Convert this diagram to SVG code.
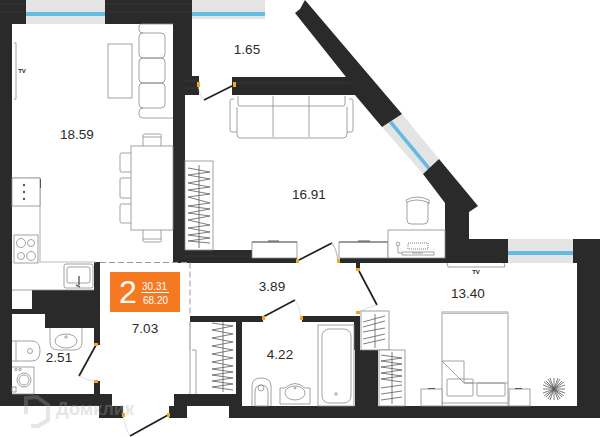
<svg xmlns="http://www.w3.org/2000/svg" width="600" height="437" viewBox="0 0 600 437">
<style>
.w{fill:#2a2a2a}
.g{fill:#e4e4e4}
.b{fill:#63bbe4}
.o{fill:#f5a623}
.f{fill:#fff;stroke:#8a8a8a;stroke-width:.8}
.l{fill:none;stroke:#8a8a8a;stroke-width:.8}
.lg{fill:none;stroke:#bdbdbd;stroke-width:1.2}
.d{fill:none;stroke:#1f1f1f;stroke-width:1.7}
.a{fill:none;stroke:#c9c9c9;stroke-width:.6}
.h{fill:none;stroke:#5c5c5c;stroke-width:.8}
.t{font-family:"Liberation Sans",Arial,sans-serif;font-size:13.5px;fill:#2a2a2a;text-anchor:middle}
.tv{font-family:"Liberation Sans",Arial,sans-serif;font-size:6px;font-weight:bold;fill:#2a2a2a;text-anchor:middle}
</style>
<rect width="600" height="437" fill="#fff"/>

<g id="windows">
<rect class="g" x="26" y="0" width="79" height="24"/><rect class="b" x="24" y="12" width="84" height="4"/>
<rect class="g" x="192" y="0" width="73" height="19"/><rect class="b" x="192" y="12" width="73" height="4"/>
<polygon class="g" points="402,114 439,159 423,174 382,127"/><polygon class="b" points="392,121 431,168 428,170 389,123"/>
<rect class="g" x="508" y="239" width="65" height="24"/><rect class="b" x="506" y="251" width="70" height="4"/>
</g>

<g id="walls">
<path class="w" d="M0 0H26V24H12V394H0Z"/>
<path class="w" d="M105 0H192V76H199V95H185V250H252V258H297V263H173V24H105Z"/>
<path class="w" d="M232 77H346L295 13L300 9L305 0L402 114L382 127L355 95H232Z"/>
<path class="w" d="M439 159L478 206L469 212V239H508V263H340V258H445V203L423 174Z"/>
<path class="w" d="M573 239H600V418H229V406H355V350H354V316H360V350H378V406H577V263H573Z"/>
<rect class="w" x="356" y="263" width="4" height="7"/>
<rect class="w" x="190" y="316" width="73" height="6"/>
<rect class="w" x="302" y="316" width="58" height="6"/>
<rect class="w" x="236" y="322" width="6" height="72"/>
<rect class="w" x="174" y="394" width="68" height="12"/>
<rect class="w" x="169" y="406" width="18" height="12"/>
<rect class="w" x="0" y="394" width="112" height="12"/>
<rect class="w" x="99" y="406" width="24" height="12"/>
<rect class="w" x="94" y="262" width="6" height="83"/>
<rect class="w" x="94" y="381" width="6" height="13"/>
<rect class="w" x="32" y="290" width="62" height="19"/>
<rect class="w" x="12" y="309" width="82" height="5"/>
<rect class="w" x="45" y="314" width="49" height="14"/>
<path d="M0 4H26M105 4H192M0 12H24M108 12H192M185 81H199M185 88H199M185 256H252M232 83H350" stroke="#444" stroke-width=".5" fill="none"/>
</g>

<g id="doors">
<path class="d" d="M234 85L204 100"/><path class="a" d="M198 84Q199 95 204 100"/>
<path class="d" d="M297 261L332 243"/><path class="lg" stroke-width=".7" d="M332 243Q337 250 338 261"/>
<path class="d" d="M359 271L377 305"/><path class="a" d="M377 305Q368 307 358 312"/>
<path class="d" d="M263 317L295 300"/><path class="a" d="M295 300Q300 307 301 317"/>
<path class="d" d="M96 345L79 376"/><path class="a" d="M79 376Q88 381 96 381"/>
<path class="d" d="M168 415L130 436"/><path class="a" d="M123 415Q125 428 130 436"/>
<rect class="o" x="197" y="82" width="3" height="5"/><rect class="o" x="233" y="82" width="3" height="5"/>
<rect class="o" x="296" y="259" width="3" height="4"/><rect class="o" x="337" y="259" width="3" height="4"/>
<rect class="o" x="356" y="268" width="4" height="3"/><rect class="o" x="356" y="311" width="4" height="3"/>
<rect class="o" x="262" y="316" width="3" height="4"/><rect class="o" x="300" y="316" width="3" height="4"/>
<rect class="o" x="94" y="343" width="4" height="3"/><rect class="o" x="94" y="380" width="4" height="3"/>
<rect class="o" x="122" y="413" width="3" height="4"/><rect class="o" x="167" y="413" width="3" height="4"/>
<path d="M100 262.500H190V316" fill="none" stroke="#9a9a9a" stroke-width="1" stroke-dasharray="6 3"/>
</g>

<g id="living">
<rect class="f" x="108" y="44" width="24" height="54"/>
<path class="l" d="M173 24H141Q139 24 139 28V30Q139 33 143 33H161Q165 33 165 37V54Q165 58 161 58H143Q139 58 139 62V79Q139 83 143 83H161Q165 83 165 87V104Q165 108 161 108H143Q139 108 139 112V114Q139 118 143 118H173"/>
<path class="l" d="M143 33Q139 33 139 37V54Q139 58 143 58H161Q165 58 165 62V79Q165 83 161 83H143Q139 83 139 87V104Q139 108 143 108"/>
<path class="l" d="M14 43H16V99H14"/>
<text class="tv" x="22" y="73">TV</text>
<rect class="f" x="131" y="146" width="42" height="84"/>
<path class="l" d="M131 153H121Q120 153 120 155V170Q120 172 121 172H131M131 178H121Q120 178 120 180V196Q120 198 121 198H131M131 204H121Q120 204 120 206V221Q120 223 121 223H131"/>
<path class="l" d="M143 146V137Q142 134 146 134H158Q163 134 161 137V146M143 230V239Q142 242 146 242H158Q163 242 161 239V230"/>
<path class="l" d="M143 137H161M143 239H161"/>
</g>

<g id="kitchen">
<path class="lg" d="M12 178H40V262H96"/>
<rect class="f" x="12" y="178" width="28" height="28"/>
<path d="M40.500 179V188" stroke="#555" stroke-width="1"/>
<circle cx="24" cy="185" r="1.200" fill="#555"/><circle cx="24" cy="192" r="1.200" fill="#555"/><circle cx="24" cy="199" r="1.200" fill="#555"/>
<rect class="f" x="14" y="235" width="24" height="28"/>
<circle class="l" cx="21" cy="243" r="4.500"/><circle class="l" cx="31" cy="243" r="3.500"/><circle class="l" cx="21" cy="256" r="3.500"/><circle class="l" cx="31" cy="256" r="4.500"/>
<rect class="f" x="64" y="264" width="29" height="24" rx="2"/><rect class="l" x="67" y="267" width="23" height="16" rx="2"/>
<path d="M79 276V285M76 285L80 287" stroke="#666" stroke-width="1.500" fill="none"/>
<path class="l" d="M12 290H94"/>
</g>

<g id="badge">
<rect x="110" y="272" width="70" height="40" fill="#f47920"/>
<text x="128" y="303" font-family="'Liberation Sans',Arial,sans-serif" font-size="32" fill="#fff" text-anchor="middle">2</text>
<text x="154.500" y="290" font-family="'Liberation Sans',Arial,sans-serif" font-size="10" fill="#fff" text-anchor="middle">30.31</text>
<rect x="141" y="292" width="28" height="1" fill="#fff"/>
<text x="155.500" y="304" font-family="'Liberation Sans',Arial,sans-serif" font-size="10" fill="#fff" text-anchor="middle">68.20</text>
</g>

<g id="room1691">
<path class="l" d="M238 96V104Q238 106 240 106H343Q345 106 345 104V96"/>
<path class="l" d="M234 99H232Q230 99 230 101V130Q230 132 232 132H237M237 107V134Q237 138 240 138H343Q347 138 347 134V107M349 99H351Q353 99 353 101V130Q353 132 351 132H347"/>
<path class="l" d="M273 96V137M309 96V137"/>
<rect class="f" x="185" y="161" width="28" height="89"/>
<path class="h" d="M199 165V248M188 168L210 172L188 175L210 179L188 183L210 187L188 190L210 194L188 197L210 203L188 206L210 209L188 213L210 216L188 220L210 225L188 228L210 232L188 235L210 238L188 241L210 243"/>
<rect class="f" x="252" y="242" width="45" height="16"/>
<path d="M252 242H297" stroke="#888" stroke-width="1.500"/><path d="M268 241H279" stroke="#555" stroke-width="1"/>
<path class="f" d="M339 242H388V258H339Z"/>
<path d="M339 242H388" stroke="#888" stroke-width="1.500"/><path d="M358 241H370" stroke="#555" stroke-width="1"/>
<rect class="f" x="388" y="230" width="57" height="28"/>
<rect class="h" x="408" y="243" width="20" height="6" stroke-dasharray="1 1" stroke-width="3"/>
<circle class="l" cx="398" cy="244" r="1.800"/><path class="l" d="M398 246V253H402M402 252H434V255H402ZM412 253H423"/>
<path class="l" d="M406 200Q417 194 429 200L429 204L427 202Q417 198 407 202ZM407 202V220Q407 224 411 224H424Q428 224 428 220V202"/>
</g>

<g id="closets">
<path class="l" d="M190 322V394M192 350H196V394"/>
<path class="lg" d="M190 322V350"/>
<path class="h" d="M223 322V392M212 323L233 326L212 330L233 334L212 338L233 342L212 346L233 350L212 354L233 358L212 362L233 366L212 369L233 372L212 375L233 378L212 381L233 384L212 387L233 390"/>
<rect class="f" x="361" y="311" width="28" height="39"/>
<path class="h" d="M375 314V348M363 322L385 316M363 327L385 321M363 332L385 328M363 339L385 334M363 344L385 339"/>
<rect class="f" x="379" y="350" width="26" height="56"/>
<path class="h" d="M392 352V404M381 355L402 358L381 361L402 364L381 367L402 370L381 373L402 376L381 379L402 382M381 388L402 385M381 394L402 391M381 400L402 397"/>
</g>

<g id="wc">
<path class="l" d="M50 328V342Q50 350 58 350H74Q82 350 82 342V328"/>
<ellipse class="l" cx="66" cy="341" rx="11" ry="7"/><circle class="l" cx="66" cy="337" r="1.200"/>
<path class="l" d="M12 341H32Q40 341 40 351Q40 361 32 361H12M16 341V361"/>
<circle class="l" cx="30" cy="351" r="2.500"/>
<path class="l" d="M12 367H34V394H12"/>
<circle class="l" cx="24" cy="380" r="7"/><circle class="l" cx="24" cy="380" r="5"/>
<circle class="l" cx="16" cy="369.500" r="1.200"/><circle class="l" cx="20" cy="369.500" r="1.200"/>
<rect class="f" x="12" y="387" width="4" height="5"/>
</g>

<g id="bath">
<rect class="f" x="318" y="325" width="36" height="81"/>
<rect class="l" x="322" y="329" width="29" height="74" rx="7"/>
<circle class="l" cx="336" cy="394" r="1.200"/>
<path class="l" d="M252 406V386Q252 378 261 378Q271 378 271 386V406M255 392V406H268V392Q268 385 261 385Q255 385 255 392"/>
<circle class="l" cx="261" cy="388" r="3"/>
<path class="l" d="M280 404V388H285Q295 379 305 388H310V404M280 404H310"/>
<ellipse class="l" cx="295" cy="393" rx="10" ry="7"/><circle class="l" cx="295" cy="388" r="1"/>
</g>

<g id="bedroom">
<path class="l" d="M447 263L448 267H505L504 263"/>
<text class="tv" x="476" y="274">TV</text>
<rect class="f" x="442" y="312" width="66" height="94"/>
<path class="lg" d="M443 313.500H507"/>
<path class="l" d="M442 361H464V383M442 361L464 383H508M442 403H508"/>
<rect class="l" x="447" y="379" width="26" height="17" rx="1"/>
<rect class="l" x="477" y="383" width="28" height="13" rx="1"/>
<path class="l" d="M464 383H473"/>
<rect class="f" x="421" y="389" width="21" height="17"/>
<rect class="f" x="509" y="389" width="21" height="17"/>
<path d="M428 388.500H435M515 388.500H522" stroke="#555" stroke-width="1"/>
<path class="h" stroke-width=".6" d="M554 378V400M543 389H565M546 381L562 397M562 381L546 397M550 378L558 400M558 378L550 400M543 385L565 393M543 393L565 385M548 379L560 399M560 379L548 399M544 382L564 396M564 382L544 396"/>
</g>

<g id="labels">
<text class="t" x="77" y="139">18.59</text>
<text class="t" x="247" y="54">1.65</text>
<text class="t" x="309" y="199">16.91</text>
<text class="t" x="272" y="291">3.89</text>
<text class="t" x="468" y="298">13.40</text>
<text class="t" x="145" y="333">7.03</text>
<text class="t" x="280" y="359">4.22</text>
<text class="t" x="59" y="362">2.51</text>
</g>

<g id="watermark" opacity=".3">
<path d="M26 414V398L37 397L48 405V420L38 426L31 426" fill="none" stroke="#aaa" stroke-width="4"/>
<text x="95" y="415" font-family="'Liberation Sans',Arial,sans-serif" font-size="18" font-weight="bold" fill="#aaa" text-anchor="middle">Домклик</text>
</g>
</svg>
